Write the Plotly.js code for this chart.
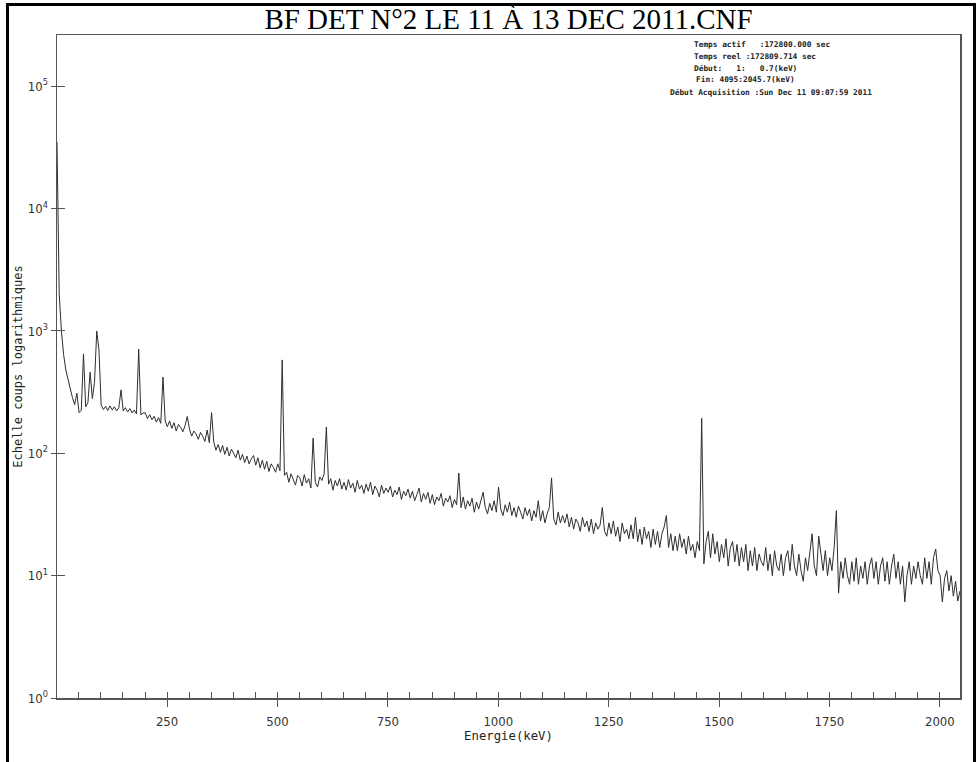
<!DOCTYPE html>
<html>
<head>
<meta charset="utf-8">
<script src="https://cdn.plot.ly/plotly-3.0.1.min.js"></script>
<style>
html,body{margin:0;padding:0;background:#fff;overflow:hidden;}
#chart{position:absolute;left:0;top:0;width:978px;height:762px;}
#frame{position:absolute;left:6px;top:3px;width:964px;height:800px;border-left:3px solid #000;border-top:3px solid #000;border-right:3px solid #000;pointer-events:none;}
</style>
</head>
<body>
<div id="chart"></div>
<div id="frame"></div>
<script>
// Spectrum: counts per 5 keV step, first point at 0.7 keV
const channelStartKeV = 0.7;
const channelStepKeV = 5;
const counts = [
  35000, 2000, 1000, 640, 480, 400, 330, 285, 250, 310,
  215, 225, 650, 240, 260, 460, 280, 380, 1000, 700,
  248, 228, 242, 224, 244, 226, 240, 222, 236, 330,
  222, 236, 218, 232, 214, 226, 210, 710, 206, 214,
  214, 192, 207, 188, 201, 180, 196, 176, 420, 184,
  165, 184, 160, 178, 152, 172, 163, 150, 168, 200,
  158, 138, 152, 144, 130, 148, 138, 125, 155, 122,
  215, 124, 106, 118, 102, 116, 98, 112, 95, 108,
  100, 92, 106, 88, 98, 84, 95, 82, 90, 96,
  80, 92, 76, 88, 74, 86, 71, 82, 77, 70,
  82, 72, 580, 66, 70, 58, 68, 62, 55, 66,
  63, 54, 67, 57, 62, 52, 133, 58, 53, 64,
  60, 68, 164, 56, 62, 50, 60, 54, 62, 51,
  58, 50, 61, 52, 57, 48, 60, 51, 55, 47,
  56, 49, 58, 46, 54, 50, 44, 55, 47, 52,
  48, 54, 44, 50, 46, 53, 42, 49, 45, 51,
  43, 49, 41, 46, 52, 40, 47, 42, 48, 39,
  46, 38, 44, 41, 47, 37, 43, 40, 45, 36,
  42, 38, 69, 36, 44, 35, 41, 37, 43, 33,
  40, 35, 42, 48, 36, 32, 39, 34, 41, 33,
  53, 35, 31, 38, 33, 40, 31, 36, 30, 37,
  33, 29, 36, 31, 35, 28, 34, 30, 41, 28,
  34, 27, 32, 36, 63, 29, 26, 33, 27, 31,
  27, 32, 25, 30, 24, 29, 27, 23, 30, 25,
  28, 23, 29, 22, 27, 24, 26, 36, 23, 21,
  27, 22, 28, 21, 25, 19, 27, 22, 24, 20,
  26, 20, 30, 19, 24, 18, 25, 20, 23, 17,
  24, 18, 23, 17, 22, 25, 31, 17, 22, 16,
  21, 16, 22, 17, 20, 15, 21, 16, 18, 14,
  19, 16, 193, 12.5, 19, 23, 14, 22, 15, 19,
  13, 18, 14, 20, 12, 17, 19, 13, 18, 12,
  17, 13, 18, 11, 16, 12, 17, 11, 15, 13,
  12, 17, 11, 15, 10, 16, 12, 11, 15, 10,
  14, 16, 11, 18, 12, 10, 15, 11, 9, 14,
  11, 16, 22, 12, 10, 21, 15, 11, 16, 10,
  14, 11, 17, 34, 7.2, 13, 9.5, 14, 10, 8.5,
  13, 9, 14, 8.5, 12, 9.5, 13, 8.5, 12, 14,
  9.5, 13, 8.5, 12, 14, 9, 13, 8.5, 12, 15,
  9.5, 13, 8.5, 12, 6.1, 10, 13, 8.5, 12, 9.5,
  13, 10, 8.5, 14, 9.5, 13, 8.5, 14, 16.5, 11,
  10, 6.1, 9.5, 11, 7.5, 10, 6.8, 9, 6.2, 7.5
];

const xTickVals = [250, 500, 750, 1000, 1250, 1500, 1750, 2000];
const xTickText = ['250', '500', '750', '1000', '1250', '1500', '1750', '2000'];
const yTickVals = [1, 10, 100, 1000, 10000, 100000];
const yTickText = ['10<sup>0</sup>', '10<sup>1</sup>', '10<sup>2</sup>', '10<sup>3</sup>', '10<sup>4</sup>', '10<sup>5</sup>'];

const titleText = 'BF DET N°2 LE 11 À 13 DEC 2011.CNF';
const xTitle = 'Energie(keV)';
const yTitle = 'Echelle coups logarithmiques';
const infoLines = [
  'Temps actif   :172800.000 sec',
  'Temps reel :172809.714 sec',
  'Début:   1:   0.7(keV)',
  'Fin: 4095:2045.7(keV)',
  'Début Acquisition :Sun Dec 11 09:07:59 2011'
];
const infoX = [692, 692, 692, 694, 668];
const infoY = [45, 56.5, 68, 79.5, 92];

// plot geometry (pixels)
const W = 978, H = 762;
const L = 57, R = 960, T = 35, B = 698;
const xRange = [0.7, 2045.7];
const yRange = [0, 5.419];

const annotations = infoLines.map((s, i) => ({
  text: s.replace(/ /g, '\u00a0'),
  xref: 'paper', yref: 'paper',
  x: (infoX[i] - L) / (R - L),
  y: (B - infoY[i]) / (B - T),
  xanchor: 'left', yanchor: 'middle',
  showarrow: false,
  font: {family: 'DejaVu Sans Mono, monospace', size: 7.8, color: '#222', weight: 'bold'}
}));

const trace = {
  type: 'scatter', mode: 'lines',
  x0: channelStartKeV, dx: channelStepKeV,
  y: counts,
  line: {color: '#2e2e2e', width: 1},
  hoverinfo: 'x+y'
};
// empty trace so the overlaid tick-only axes are drawn
const tickAxesTrace = {
  type: 'scatter', mode: 'lines', x: [], y: [],
  xaxis: 'x2', yaxis: 'y2', hoverinfo: 'skip'
};

const tickFont = {family: 'DejaVu Sans Condensed, Liberation Sans Narrow, DejaVu Sans, sans-serif', size: 13, color: '#333'};

const layout = {
  width: W, height: H, autosize: false,
  margin: {l: L, r: W - R, t: T, b: H - B, pad: 0},
  paper_bgcolor: '#fff', plot_bgcolor: '#fff',
  showlegend: false,
  title: {
    text: titleText,
    font: {family: 'Liberation Serif, Times New Roman, serif', size: 29, color: '#000'},
    xref: 'paper', x: 0.5, xanchor: 'center',
    yref: 'container', y: 1 - 19 / H, yanchor: 'middle'
  },
  xaxis: {
    range: xRange, showgrid: false, zeroline: false,
    showline: true, linecolor: '#555', linewidth: 1.5, mirror: true,
    tickmode: 'array', tickvals: xTickVals, ticktext: xTickText,
    ticks: 'outside', ticklen: 7, tickwidth: 1, tickcolor: '#555',
    ticklabelstandoff: 4,
    tickfont: tickFont,
    title: {text: xTitle, standoff: 2, font: {family: 'DejaVu Sans Mono, monospace', size: 12.3, color: '#222'}}
  },
  xaxis2: {
    range: xRange, overlaying: 'x', anchor: 'y', side: 'bottom',
    showgrid: false, zeroline: false, showline: false,
    tickmode: 'linear', tick0: 0, dtick: 50,
    ticks: 'inside', ticklen: 6, tickwidth: 1, tickcolor: '#555',
    showticklabels: false
  },
  yaxis: {
    type: 'log', range: yRange, showgrid: false, zeroline: false,
    showline: true, linecolor: '#555', linewidth: 1.5, mirror: true,
    tickmode: 'array', tickvals: yTickVals, ticktext: yTickText,
    ticks: 'outside', ticklen: 5, tickwidth: 1, tickcolor: '#555',
    tickfont: tickFont,
    title: {text: yTitle, standoff: 2, font: {family: 'DejaVu Sans Mono, monospace', size: 12, color: '#222'}}
  },
  yaxis2: {
    type: 'log', range: yRange, overlaying: 'y', anchor: 'x', side: 'left',
    showgrid: false, zeroline: false, showline: false,
    tickmode: 'array', tickvals: yTickVals,
    ticks: 'inside', ticklen: 8, tickwidth: 1, tickcolor: '#555',
    showticklabels: false
  },
  annotations: annotations
};

Plotly.newPlot('chart', [trace, tickAxesTrace], layout, {displayModeBar: false, staticPlot: true});
</script>
</body>
</html>
